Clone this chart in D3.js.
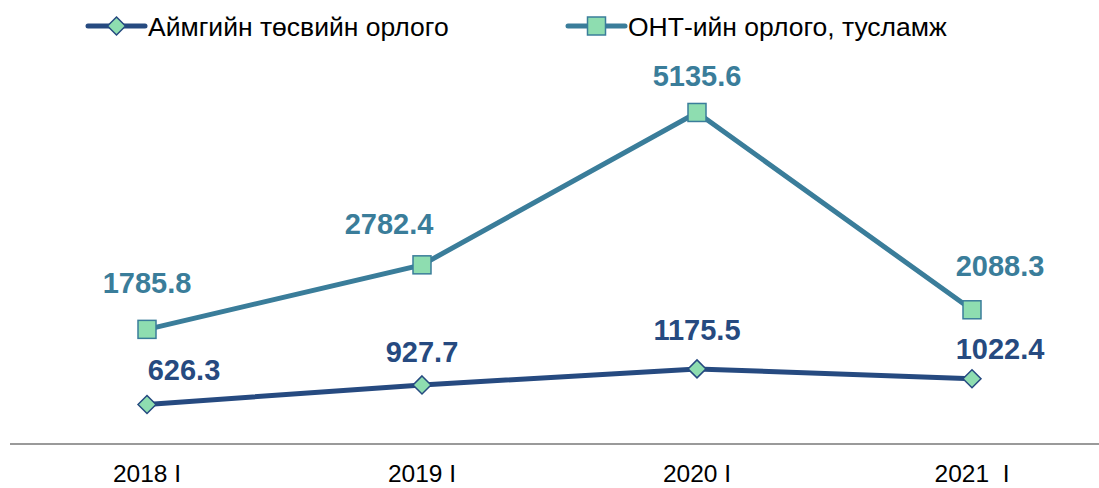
<!DOCTYPE html>
<html><head><meta charset="utf-8">
<script src="https://cdn.jsdelivr.net/npm/d3@7"></script>
<style>body{margin:0;background:#fff}svg{display:block}</style>
</head><body>
<script>
const categories = ["2018 I", "2019 I", "2020 I", "2021  I"];
const seriesNames = ["Аймгийн төсвийн орлого", "ОНТ-ийн орлого, тусламж"];
const aimagValues = [626.3, 927.7, 1175.5, 1022.4];
const ontValues = [1785.8, 2782.4, 5135.6, 2088.3];

// layout-only label offsets [dx, dy] from points
const ontLabelOff = [[0,-46],[-33,-41],[0,-36],[28,-44]];
const aimagLabelOff = [[37,-34],[0,-33],[0,-39],[28,-30]];

const W = 1099, H = 488;
const svg = d3.select("body").append("svg").attr("width", W).attr("height", H);
const x = d3.scaleBand().domain(categories).range([9.5, 1109.5]);
const y = d3.scaleLinear().domain([0, 6000]).range([445, 56.5]);
const cx = c => x(c) + x.bandwidth()/2;

const navy = "#264A80", teal = "#3A7D9A", green = "#8EDDB0";

// axis
const ax = svg.append("g").attr("transform", "translate(0,444)")
  .call(d3.axisBottom(x).tickSize(0).tickPadding(21));
ax.select(".domain").attr("stroke", "#9a9a9a").attr("stroke-width", 2).attr("d", "M10,0H1099");
ax.selectAll("text").attr("font-family", "Liberation Sans, Arial, sans-serif")
  .attr("font-size", 24.5).attr("fill", "#000").style("white-space","pre").attr("xml:space","preserve")
  .attr("transform", "scale(1.03,1)");
ax.selectAll(".tick text").attr("transform", null);

const line = d3.line().x(d => cx(d.c)).y(d => y(d.v));
const ontData = categories.map((c,i) => ({c, v: ontValues[i]}));
const aimData = categories.map((c,i) => ({c, v: aimagValues[i]}));

svg.append("path").datum(ontData).attr("d", line).attr("fill","none").attr("stroke", teal).attr("stroke-width", 5);
svg.append("path").datum(aimData).attr("d", line).attr("fill","none").attr("stroke", navy).attr("stroke-width", 5);

svg.selectAll(".sq").data(ontData).join("rect")
  .attr("x", d => cx(d.c)-9).attr("y", d => y(d.v)-9).attr("width", 18).attr("height", 18)
  .attr("fill", green).attr("stroke", teal).attr("stroke-width", 1.5);
const diamond = "M0,-9L9,0L0,9L-9,0Z";
svg.selectAll(".dm").data(aimData).join("path")
  .attr("d", diamond).attr("transform", d => `translate(${cx(d.c)},${y(d.v)})`)
  .attr("fill", green).attr("stroke", navy).attr("stroke-width", 1.5);

const lblFont = "Liberation Sans, Arial, sans-serif";
svg.selectAll(".lo").data(ontData).join("text")
  .attr("x", (d,i) => cx(d.c) + ontLabelOff[i][0]).attr("y", (d,i) => y(d.v) + ontLabelOff[i][1])
  .attr("text-anchor","middle").attr("dominant-baseline","central")
  .attr("font-family", lblFont).attr("font-weight","bold").attr("font-size", 29).attr("fill", teal)
  .text(d => d.v.toFixed(1));
svg.selectAll(".la").data(aimData).join("text")
  .attr("x", (d,i) => cx(d.c) + aimagLabelOff[i][0]).attr("y", (d,i) => y(d.v) + aimagLabelOff[i][1])
  .attr("text-anchor","middle").attr("dominant-baseline","central")
  .attr("font-family", lblFont).attr("font-weight","bold").attr("font-size", 29).attr("fill", navy)
  .text(d => d.v.toFixed(1));

// legend
const leg = [{name: seriesNames[0], color: navy, shape: "d", x0: 88}, {name: seriesNames[1], color: teal, shape: "s", x0: 568}];
leg.forEach(l => {
  const g = svg.append("g");
  g.append("line").attr("x1", l.x0).attr("x2", l.x0+57).attr("y1", 26).attr("y2", 26)
    .attr("stroke", l.color).attr("stroke-width", 5).attr("stroke-linecap","round");
  const mx = l.x0 + 28.5;
  if (l.shape === "d") g.append("path").attr("d", diamond).attr("transform", `translate(${mx},26)`)
    .attr("fill", green).attr("stroke", l.color).attr("stroke-width", 1.5);
  else g.append("rect").attr("x", mx-9).attr("y", 17).attr("width", 18).attr("height", 18)
    .attr("fill", green).attr("stroke", l.color).attr("stroke-width", 1.5);
  g.append("text").attr("x", l.x0+60).attr("y", 27).attr("dominant-baseline","central")
    .attr("font-family", lblFont).attr("font-size", 26.5).attr("fill", "#000").text(l.name);
});
</script>
</body></html>
